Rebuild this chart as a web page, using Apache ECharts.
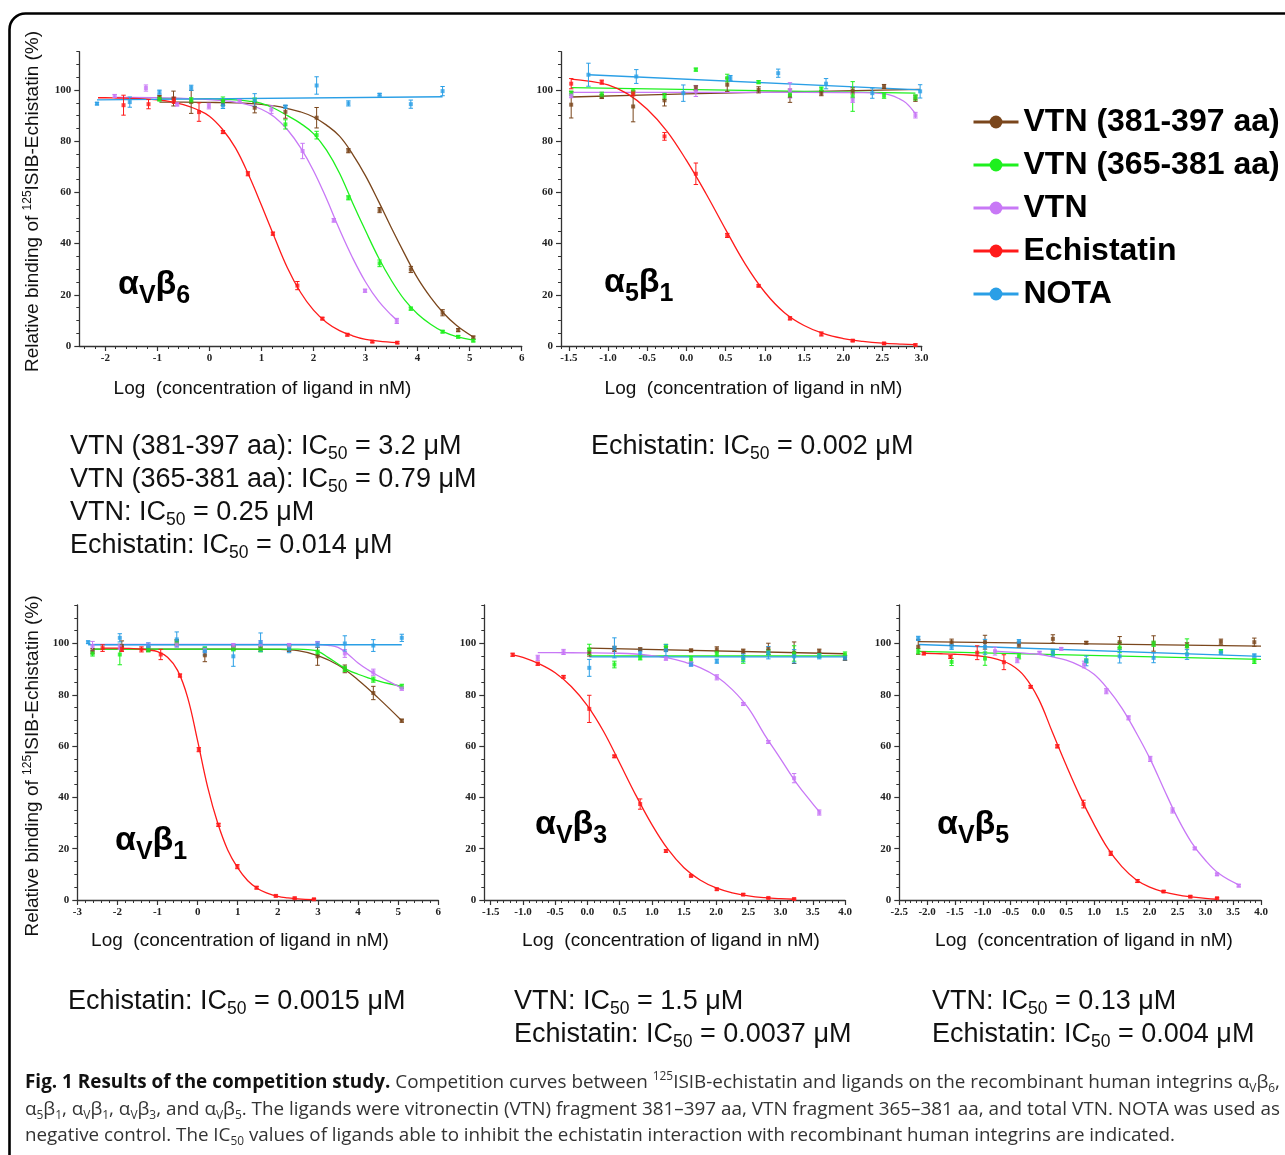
<!DOCTYPE html>
<html><head><meta charset="utf-8">
<script src="https://cdn.jsdelivr.net/npm/echarts@6/dist/echarts.min.js"></script>
<style>html,body{margin:0;padding:0;background:#fff}#c{width:1285px;height:1155px}</style>
</head><body><div id="c"></div>
<script>
// ---------------- DATA ----------------
// point arrays: [log concentration, relative binding %, error]
// fit arrays: [log concentration, fitted %]

// Panel αVβ6
const b6_v381_pts = [[-0.96,97.0,0.9],[-0.69,96.7,2.9],[-0.35,95.4,4.5],[0.26,94.9,1.0],[0.87,93.1,2.0],[1.46,91.5,2.5],[2.06,89.2,4.0],[2.67,76.3,0.8],[3.27,53.1,1.0],[3.87,29.9,1.2],[4.48,13.0,1.2],[4.78,6.2,0.6],[5.07,3.3,0.6]];
const b6_v381_fit = [[-0.96,95.3],[-0.5,95.3],[0,95.2],[0.25,95.1],[0.5,95.0],[0.75,94.8],[1.0,94.4],[1.25,93.8],[1.5,92.8],[1.75,91.5],[2.0,89.5],[2.25,86.3],[2.5,82],[2.75,75],[3.0,66.5],[3.25,56.5],[3.5,46],[3.75,36],[4.0,26.5],[4.25,19],[4.5,12.8],[4.75,8],[5.07,3.5]];
const b6_v365_pts = [[-0.96,96.5,0.8],[-0.35,96.0,1.0],[0.26,95.7,1.6],[0.87,96.1,0.8],[1.46,86.6,1.8],[2.06,82.4,1.5],[2.67,57.9,0.8],[3.27,32.3,1.3],[3.87,14.6,0.6],[4.48,5.6,0.5],[4.78,3.6,0.5],[5.07,2.1,0.5]];
const b6_v365_fit = [[-0.96,96.8],[-0.5,96.7],[0,96.6],[0.25,96.4],[0.5,96.2],[0.75,95.7],[1.0,94.8],[1.25,92.8],[1.5,90],[1.75,87],[2.0,83],[2.25,76.5],[2.5,67.5],[2.75,56],[3.0,45],[3.25,34.5],[3.5,25.5],[3.75,18],[4.0,12.5],[4.25,8.5],[4.5,5.5],[4.75,3.7],[5.07,2.3]];
const b6_vtn_pts = [[-1.82,97.7,0.6],[-1.22,100.8,1.2],[-0.62,94.4,0.6],[-0.01,93.75,1.1],[0.58,95.8,0.5],[1.19,92.4,1.5],[1.79,76.2,3.0],[2.39,49.1,0.7],[2.99,21.6,0.6],[3.6,9.8,1.0]];
const b6_vtn_fit = [[-1.82,97.1],[-1.5,97.1],[-1.0,97.0],[-0.5,96.8],[0,96.3],[0.25,95.9],[0.5,95.3],[0.75,94.2],[1.0,92.5],[1.25,89.5],[1.5,84.5],[1.75,77.5],[2.0,68.5],[2.25,57.5],[2.5,45.5],[2.75,34.5],[3.0,25],[3.25,17.5],[3.5,12],[3.6,10.2]];
const b6_ech_pts = [[-1.65,94.1,3.9],[-1.17,94.5,1.8],[-0.68,96.0,1.2],[-0.2,91.4,3.6],[0.26,83.6,0.6],[0.74,67.3,0.8],[1.22,43.9,0.6],[1.69,23.6,1.6],[2.17,10.7,0.5],[2.65,4.4,0.5],[3.13,1.7,0.4],[3.61,1.3,0.4]];
const b6_ech_fit = [[-2.14,97.0],[-2.0,97.0],[-1.75,96.9],[-1.5,96.8],[-1.25,96.6],[-1.0,96.2],[-0.75,95.5],[-0.5,94.3],[-0.25,92.5],[0,89.8],[0.25,84.7],[0.5,77.4],[0.75,67],[1.0,55],[1.25,42.5],[1.5,30.5],[1.75,21],[2.0,14],[2.25,9.2],[2.5,6.0],[2.75,4.0],[3.0,2.6],[3.25,1.9],[3.61,1.3]];
const b6_nota_pts = [[-2.16,94.7,0.5],[-1.53,95.3,2.0],[-0.96,99.2,0.8],[-0.35,100.9,1.0],[0.26,94.0,1.2],[0.87,96.1,2.5],[1.46,93.5,0.6],[2.06,101.8,3.4],[2.67,94.8,1.0],[3.27,98.2,0.5],[3.87,94.5,1.6],[4.48,99.6,1.8]];
const b6_nota_fit = [[-2.16,96.2],[4.48,97.4]];

// Panel α5β1
const a5b1_v381_pts = [[-1.47,94.3,5.2],[-1.08,97.5,0.8],[-0.68,93.6,6.0],[-0.28,96.0,2.2],[0.12,100.8,1.0],[0.52,102.1,2.6],[0.92,100.1,1.2],[1.32,97.8,2.6],[1.72,98.8,1.0],[2.12,99.7,1.2],[2.52,101.4,0.8],[2.92,96.8,1.2]];
const a5b1_v381_fit = [[-1.47,97.3],[0,98.5],[1.5,99.4],[2.98,100.3]];
const a5b1_v365_pts = [[-1.47,98.8,0.8],[-1.08,98.2,1.0],[-0.68,99.6,1.0],[-0.28,97.5,1.2],[0.12,108,0.6],[0.52,104.7,1.5],[0.92,103.1,0.6],[1.32,98.2,1.0],[1.72,100.4,0.8],[2.12,97.5,5.8],[2.52,97.8,1.0],[2.92,97.1,1.0]];
const a5b1_v365_fit = [[-1.47,101],[2.92,98.8]];
const a5b1_vtn_pts = [[-1.47,97.8,0.8],[0.12,99.5,2.0],[1.32,99.9,3.0],[2.12,96.2,1.0],[2.92,90.2,1.1]];
const a5b1_vtn_fit = [[-1.47,99.1],[0,99.1],[1.0,99.1],[2.0,99.05],[2.25,99.0],[2.5,98.6],[2.6,98.0],[2.7,96.8],[2.8,95],[2.92,90.8]];
const a5b1_ech_pts = [[-1.47,102.5,2.0],[-1.08,103.1,0.8],[-0.68,98.7,1.0],[-0.28,81.9,1.5],[0.12,67.3,4.2],[0.52,43.2,0.8],[0.92,23.5,0.4],[1.32,10.8,0.6],[1.72,4.7,0.8],[2.12,2.1,0.4],[2.52,1.0,0.4],[2.92,0.4,0.4]];
const a5b1_ech_fit = [[-1.47,104.3],[-1.25,103.5],[-1.0,102],[-0.75,98.5],[-0.5,92.5],[-0.25,84],[0,72.5],[0.25,59.5],[0.5,45.5],[0.75,32],[1.0,21],[1.25,13],[1.5,8],[1.75,4.8],[2.0,2.9],[2.25,1.8],[2.5,1.1],[2.75,0.7],[2.92,0.5]];
const a5b1_nota_pts = [[-1.25,106,4.5],[-0.64,105.3,2.7],[-0.04,98.8,3.2],[0.56,104.7,1.0],[1.17,106.6,1.6],[1.78,102.5,2.0],[2.37,98.8,2.0],[2.98,99.5,2.6]];
const a5b1_nota_fit = [[-1.25,106],[2.98,100.1]];

// Panel αVβ1
const b1_v381_pts = [[-2.62,97.0,1.0],[-1.89,99.0,2.0],[-1.23,97.9,1.0],[-0.52,100.5,1.0],[0.18,95.4,2.5],[0.89,98.3,0.8],[1.57,97.9,1.0],[2.28,97.9,1.0],[2.99,95.0,3.5],[3.67,90.1,1.5],[4.38,80.7,2.6],[5.09,69.9,0.6]];
const b1_v381_fit = [[-2.62,97.8],[-1.5,97.8],[0,97.8],[1.0,97.8],[2.0,97.7],[2.5,97.2],[3.0,95.3],[3.5,91.6],[4.0,85.8],[4.5,78.8],[5.09,69.9]];
const b1_v365_pts = [[-2.62,96.1,1.0],[-1.94,95.7,4.0],[-1.23,97.7,1.0],[-0.52,100.3,1.0],[0.18,97.7,1.0],[0.89,97.9,0.8],[1.57,97.7,1.0],[2.28,98.3,0.8],[2.99,96.6,0.8],[3.67,90.1,1.0],[4.38,85.9,1.0],[5.09,83.3,0.8]];
const b1_v365_fit = [[-2.62,97.8],[0,97.8],[2.5,97.8],[2.75,97.6],[3.0,96.9],[3.25,94.6],[3.5,92],[3.75,89.6],[4.0,88],[4.25,86.6],[4.5,85.4],[4.75,84.4],[5.09,83.3]];
const b1_vtn_pts = [[-2.62,99.0,1.8],[-1.94,98.7,1.0],[-1.23,99.2,1.0],[-0.52,99.6,1.0],[0.18,97.4,1.0],[0.89,99.2,0.8],[1.57,99.9,1.2],[2.28,99.0,1.0],[2.99,100.0,0.8],[3.67,96.1,1.5],[4.38,88.8,1.2],[5.09,82.4,0.6]];
const b1_vtn_fit = [[-2.62,99.6],[0,99.6],[3.0,99.6],[3.25,99.3],[3.5,98.5],[3.75,95.8],[4.0,92.4],[4.25,89.7],[4.5,87.4],[4.75,85.3],[5.09,82.6]];
const b1_ech_pts = [[-2.37,98.2,1.3],[-1.89,97.9,1.0],[-1.4,97.7,1.0],[-0.92,95.7,2.0],[-0.44,87.5,0.6],[0.03,58.6,0.8],[0.52,29.3,0.6],[0.99,13.0,0.8],[1.47,4.8,0.5],[1.95,1.6,0.4],[2.42,0.7,0.4],[2.9,0.3,0.3]];
const b1_ech_fit = [[-2.37,98.2],[-2.0,98.2],[-1.75,98.1],[-1.5,97.9],[-1.25,97.5],[-1.0,96.8],[-0.75,94.6],[-0.5,89.5],[-0.25,79],[0,62],[0.25,44],[0.5,30],[0.75,19.5],[1.0,12.5],[1.25,7.5],[1.5,4.4],[1.75,2.6],[2.0,1.4],[2.25,0.8],[2.5,0.4],[2.9,0.1]];
const b1_nota_pts = [[-2.73,100.5,0.5],[-1.94,102.2,1.6],[-1.23,99.0,1.2],[-0.52,101.6,2.9],[0.18,97.0,1.5],[0.89,95.0,3.9],[1.57,100.5,3.6],[2.28,97.9,1.5],[2.99,99.6,1.0],[3.67,100.0,3.0],[4.38,99.2,2.3],[5.09,102.2,1.4]];
const b1_nota_fit = [[-2.73,99.5],[5.09,99.5]];

// Panel αVβ3
const b3_v381_pts = [[0.03,96.6,1.5],[0.42,97.9,1.0],[0.82,97.7,0.6],[1.22,97.9,1.0],[1.61,97.3,0.5],[2.01,97.7,1.0],[2.42,97.0,0.8],[2.81,97.9,2.2],[3.21,96.4,4.2],[3.6,97.0,0.8],[4.0,94.4,1.0]];
const b3_v381_fit = [[0.03,98.2],[4.0,96.0]];
const b3_v365_pts = [[0.03,97.7,2.0],[0.42,91.8,1.3],[0.82,94.4,0.8],[1.22,98.7,1.0],[1.61,93.8,1.2],[2.01,96.1,1.0],[2.42,93.8,1.5],[2.81,96.6,1.0],[3.21,96.1,3.0],[3.6,95.3,0.8],[4.0,95.7,1.0]];
const b3_v365_fit = [[0.03,95.2],[4.0,95.2]];
const b3_vtn_pts = [[-0.77,94.4,1.0],[-0.37,96.7,1.0],[1.22,94.1,0.6],[1.61,92.1,0.8],[2.01,86.8,1.0],[2.42,76.4,0.6],[2.81,61.6,0.6],[3.21,47.5,1.8],[3.6,34.1,1.0]];
const b3_vtn_fit = [[-0.77,96.4],[-0.5,96.4],[0,96.35],[0.5,96.2],[0.75,95.9],[1.0,95.3],[1.25,94.4],[1.5,92.8],[1.75,90.6],[2.0,87.2],[2.25,82],[2.5,74.8],[2.75,64.5],[3.0,55],[3.25,45.5],[3.5,37.5],[3.6,34.5]];
const b3_ech_pts = [[-1.16,95.6,0.6],[-0.77,92.1,0.6],[-0.37,87.0,0.5],[0.03,74.5,5.3],[0.42,56.0,0.5],[0.82,37.4,2.0],[1.22,19.1,0.5],[1.61,9.4,0.4],[2.01,4.2,0.4],[2.42,2.1,0.4],[2.81,0.8,0.3],[3.21,0.4,0.3]];
const b3_ech_fit = [[-1.16,95.6],[-1.0,94.6],[-0.75,92.1],[-0.5,88.6],[-0.25,83.2],[0,75.8],[0.25,65.8],[0.5,53.5],[0.75,41],[1.0,29.5],[1.25,19.8],[1.5,12.6],[1.75,7.8],[2.0,4.7],[2.25,2.8],[2.5,1.6],[2.75,0.9],[3.0,0.5],[3.21,0.3]];
const b3_nota_pts = [[0.03,90.5,3.3],[0.42,98.3,3.9],[0.82,96.4,1.5],[1.22,97.4,2.2],[1.61,91.8,0.6],[2.01,93.1,0.8],[2.42,94.4,1.5],[2.81,96.4,2.4],[3.21,95.0,2.6],[3.6,95.0,1.0],[4.0,94.4,0.8]];
const b3_nota_fit = [[0.03,94.8],[4.0,94.8]];

// Panel αVβ5
const b5_v381_pts = [[-2.16,98.7,2.9],[-1.56,100.5,1.2],[-0.96,100.5,2.7],[-0.35,99.6,1.0],[0.26,101.8,1.6],[0.86,100.3,0.5],[1.46,100.5,2.2],[2.07,100.0,3.0],[2.67,99.3,1.0],[3.28,100.7,1.0],[3.88,100.5,1.6]];
const b5_v381_fit = [[-2.16,100.7],[4.0,99.0]];
const b5_v365_pts = [[-2.16,97.0,1.0],[-1.56,92.8,1.4],[-0.96,94.1,2.6],[-0.35,95.0,1.0],[0.26,96.4,1.0],[0.86,93.2,0.8],[1.46,98.4,2.0],[2.07,99.9,1.0],[2.67,99.0,2.8],[3.28,97.0,0.6],[3.88,93.2,1.0]];
const b5_v365_fit = [[-2.16,96.9],[4.0,93.8]];
const b5_vtn_pts = [[-0.78,97.0,1.5],[-0.38,93.5,1.0],[0.02,96.4,0.5],[0.41,97.9,0.5],[0.82,91.8,1.3],[1.22,81.4,1.0],[1.62,71.0,0.8],[2.01,55.0,1.0],[2.41,34.9,1.0],[2.81,20.1,0.5],[3.21,10.0,0.5],[3.6,5.6,0.5]];
const b5_vtn_fit = [[-0.78,97.0],[-0.5,96.6],[-0.25,96.2],[0,95.8],[0.25,94.8],[0.5,93.5],[0.75,91.3],[1.0,88],[1.25,82.2],[1.5,74.8],[1.75,65.5],[2.0,55.3],[2.25,43.5],[2.5,32],[2.75,22.5],[3.0,15.5],[3.25,10.2],[3.6,5.9]];
const b5_ech_pts = [[-2.06,96.1,0.5],[-1.58,94.7,0.5],[-1.1,96.4,2.7],[-0.62,92.7,2.9],[-0.14,83.1,0.5],[0.34,59.9,0.6],[0.81,37.4,1.5],[1.3,18.2,0.8],[1.78,7.4,0.6],[2.25,3.3,0.4],[2.73,1.3,0.4],[3.21,0.7,0.3]];
const b5_ech_fit = [[-2.06,96.2],[-1.75,96.0],[-1.5,95.8],[-1.25,95.5],[-1.0,95],[-0.75,93.9],[-0.5,91.8],[-0.25,87.2],[0,78.5],[0.25,65.5],[0.5,52.5],[0.75,40.3],[1.0,29.5],[1.25,20],[1.5,13],[1.75,8],[2.0,5],[2.25,3.2],[2.5,2],[2.75,1.2],[3.0,0.6],[3.21,0.3]];
const b5_nota_pts = [[-2.16,102.0,0.8],[-1.56,98.7,1.0],[-0.96,98.7,2.9],[-0.35,100.7,0.8],[0.26,96.4,1.3],[0.86,93.2,1.9],[1.46,95.0,2.6],[2.07,94.4,1.9],[2.67,95.7,1.9],[3.28,96.4,0.6],[3.88,95.3,0.6]];
const b5_nota_fit = [[-2.16,99.6],[4.0,95.0]];

// Tick labels
const b6_xTicks = [-2,-1,0,1,2,3,4,5,6];
const a5b1_xTicks = [-1.5,-1.0,-0.5,0,0.5,1.0,1.5,2.0,2.5,3.0];
const b1_xTicks = [-3,-2,-1,0,1,2,3,4,5,6];
const b3_xTicks = [-1.5,-1.0,-0.5,0,0.5,1.0,1.5,2.0,2.5,3.0,3.5,4.0];
const b5_xTicks = [-2.5,-2.0,-1.5,-1.0,-0.5,0,0.5,1.0,1.5,2.0,2.5,3.0,3.5,4.0];
const yTicks = [0,20,40,60,80,100];

const seriesNames = ['VTN (381-397 aa)','VTN (365-381 aa)','VTN','Echistatin','NOTA'];
const seriesKeys = ['v381','v365','vtn','ech','nota'];

// ---------------- STYLE / LAYOUT ----------------
const COLORS = {v381:'#7a461c', v365:'#1ef01e', vtn:'#c878f6', ech:'#ff1a1a', nota:'#2a9fe6'};
const SANS = 'Liberation Sans, Arial, sans-serif';
const SERIF = 'Liberation Serif, Times New Roman, serif';

function steps(a, b, s){ const o=[]; const n=Math.round((b-a)/s); for(let i=0;i<=n;i++) o.push(+(a+i*s).toFixed(4)); return o; }

const panels = [
  {grid:{left:79.3, top:51.7, width:442.4, height:294.3}, xMin:-2.5, xMax:6, ticks:b6_xTicks, minor:steps(-2.4,6,0.2), dec:0,
   d:{v381:[b6_v381_pts,b6_v381_fit], v365:[b6_v365_pts,b6_v365_fit], vtn:[b6_vtn_pts,b6_vtn_fit], ech:[b6_ech_pts,b6_ech_fit], nota:[b6_nota_pts,b6_nota_fit]}},
  {grid:{left:561, top:51.7, width:360.7, height:294.3}, xMin:-1.6, xMax:3.0, ticks:a5b1_xTicks, minor:steps(-1.6,3.0,0.1), dec:1,
   d:{v381:[a5b1_v381_pts,a5b1_v381_fit], v365:[a5b1_v365_pts,a5b1_v365_fit], vtn:[a5b1_vtn_pts,a5b1_vtn_fit], ech:[a5b1_ech_pts,a5b1_ech_fit], nota:[a5b1_nota_pts,a5b1_nota_fit]}},
  {grid:{left:77.3, top:605, width:361, height:295}, xMin:-3, xMax:6, ticks:b1_xTicks, minor:steps(-3,6,0.2), dec:0,
   d:{v381:[b1_v381_pts,b1_v381_fit], v365:[b1_v365_pts,b1_v365_fit], vtn:[b1_vtn_pts,b1_vtn_fit], ech:[b1_ech_pts,b1_ech_fit], nota:[b1_nota_pts,b1_nota_fit]}},
  {grid:{left:484.3, top:605, width:360.7, height:295}, xMin:-1.6, xMax:4.0, ticks:b3_xTicks, minor:steps(-1.6,4.0,0.1), dec:1,
   d:{v381:[b3_v381_pts,b3_v381_fit], v365:[b3_v365_pts,b3_v365_fit], vtn:[b3_vtn_pts,b3_vtn_fit], ech:[b3_ech_pts,b3_ech_fit], nota:[b3_nota_pts,b3_nota_fit]}},
  {grid:{left:899.3, top:605, width:361.7, height:295}, xMin:-2.5, xMax:4.0, ticks:b5_xTicks, minor:steps(-2.5,4.0,0.1), dec:1,
   d:{v381:[b5_v381_pts,b5_v381_fit], v365:[b5_v365_pts,b5_v365_fit], vtn:[b5_vtn_pts,b5_vtn_fit], ech:[b5_ech_pts,b5_ech_fit], nota:[b5_nota_pts,b5_nota_fit]}}
];
const yMinor = steps(0,115,5);

function errRender(params, api){
  const x = api.value(0), y = api.value(1), e = api.value(2);
  const t = api.coord([x, y+e]), b = api.coord([x, y-e]);
  const c = api.visual('color'); const w = 2.2;
  const st = {stroke:c, lineWidth:1};
  return {type:'group', children:[
    {type:'line', shape:{x1:t[0],y1:t[1],x2:b[0],y2:b[1]}, style:st},
    {type:'line', shape:{x1:t[0]-w,y1:t[1],x2:t[0]+w,y2:t[1]}, style:st},
    {type:'line', shape:{x1:b[0]-w,y1:b[1],x2:b[0]+w,y2:b[1]}, style:st}
  ]};
}

const grids=[], xAxes=[], yAxes=[], series=[];
const AX = '#333';
panels.forEach((p,i)=>{
  grids.push(Object.assign({containLabel:false}, p.grid));
  xAxes.push({gridIndex:i, type:'value', min:p.xMin, max:p.xMax, position:'bottom',
    axisLine:{show:true, onZero:false, lineStyle:{color:AX, width:1.3}},
    axisTick:{show:true, inside:false, length:5, customValues:p.ticks, lineStyle:{color:AX, width:1.2}},
    axisLabel:{show:true, customValues:p.ticks, formatter:(v)=>Number(v).toFixed(p.dec), margin:7,
      fontFamily:SERIF, fontWeight:'bold', fontSize:11, color:'#222'},
    splitLine:{show:false}});
  xAxes.push({gridIndex:i, type:'value', min:p.xMin, max:p.xMax, position:'bottom',
    axisLine:{show:false, onZero:false}, axisTick:{show:true, inside:false, length:3, customValues:p.minor, lineStyle:{color:AX, width:1}},
    axisLabel:{show:false}, splitLine:{show:false}});
  yAxes.push({gridIndex:i, type:'value', min:0, max:115, position:'left',
    axisLine:{show:true, onZero:false, lineStyle:{color:AX, width:1.3}},
    axisTick:{show:true, inside:false, length:5, customValues:yTicks, lineStyle:{color:AX, width:1.2}},
    axisLabel:{show:true, customValues:yTicks, margin:8, fontFamily:SERIF, fontWeight:'bold', fontSize:11, color:'#222'},
    splitLine:{show:false}});
  yAxes.push({gridIndex:i, type:'value', min:0, max:115, position:'left',
    axisLine:{show:false, onZero:false}, axisTick:{show:true, inside:false, length:3, customValues:yMinor, lineStyle:{color:AX, width:1}},
    axisLabel:{show:false}, splitLine:{show:false}});
  const xi = 2*i, yi = 2*i;
  seriesKeys.forEach((k, j)=>{
    const [pts, fit] = p.d[k];
    const col = COLORS[k];
    series.push({type:'line', name:seriesNames[j], xAxisIndex:xi, yAxisIndex:yi, data:fit,
      smooth:0.4, symbol:'circle', symbolSize:8, showSymbol:false,
      lineStyle:{width:1.3, color:col}, itemStyle:{color:col}, z:2, silent:true});
    series.push({type:'custom', name:'err_'+k, xAxisIndex:xi, yAxisIndex:yi, data:pts,
      dimensions:['x','y','err'], encode:{x:0, y:1}, renderItem:errRender,
      itemStyle:{color:col}, z:3, silent:true});
    series.push({type:'scatter', name:'pt_'+k, xAxisIndex:xi, yAxisIndex:yi, data:pts.map(q=>[q[0],q[1]]),
      symbol:'rect', symbolSize:4, itemStyle:{color:col}, z:4, silent:true});
  });
});

// ---------------- TEXT ----------------
const icRich = {s:{fontSize:17.5, lineHeight:20, verticalAlign:'bottom', fontFamily:SANS, fill:'#111'}};
function icText(x, top, lines){
  return {type:'text', x:x, y:top, z:10, silent:true,
    style:{text:lines.join('\n'), fontSize:27, lineHeight:33, fontFamily:SANS, fill:'#111', align:'left', verticalAlign:'top', rich:icRich}};
}
const plRich = {s:{fontSize:25, fontWeight:'bold', lineHeight:25, verticalAlign:'bottom', fontFamily:SANS, fill:'#000'}};
function plText(x, yMid, txt){
  return {type:'text', x:x, y:yMid, z:10, silent:true,
    style:{text:txt, fontSize:34, fontWeight:'bold', lineHeight:48, fontFamily:SANS, fill:'#000', align:'left', verticalAlign:'middle', rich:plRich}};
}
const yTitleRich = {sup:{fontSize:12, lineHeight:12, verticalAlign:'top', fontFamily:SANS, fill:'#111'}};
function yTitle(x, y){
  return {type:'text', x:x, y:y, rotation:Math.PI/2, z:10, silent:true,
    style:{text:'Relative binding of {sup|125}ISIB-Echistatin (%)', fontSize:19, lineHeight:22, fontFamily:SANS, fill:'#111', align:'center', verticalAlign:'middle', rich:yTitleRich}};
}
function xTitle(x, y){
  return {type:'text', x:x, y:y, z:10, silent:true,
    style:{text:'Log  (concentration of ligand in nM)', fontSize:19, fontFamily:SANS, fill:'#111', align:'center', verticalAlign:'middle'}};
}

// caption (lines as segments: [text, kind])
const capLines = [
  [['Fig. 1 Results of the competition study.','b'],[' Competition curves between ','n'],['125','sup'],['ISIB-echistatin and ligands on the recombinant human integrins α','n'],['V','sub'],['β','n'],['6','sub'],[',','n']],
  [['α','n'],['5','sub'],['β','n'],['1','sub'],[', α','n'],['V','sub'],['β','n'],['1','sub'],[', α','n'],['V','sub'],['β','n'],['3','sub'],[', and α','n'],['V','sub'],['β','n'],['5','sub'],['. The ligands were vitronectin (VTN) fragment 381–397 aa, VTN fragment 365–381 aa, and total VTN. NOTA was used as','n']],
  [['negative control. The IC','n'],['50','sub'],[' values of ligands able to inhibit the echistatin interaction with recombinant human integrins are indicated.','n']]
];
const CAPF = 'Open Sans, Liberation Sans, sans-serif';
const capFonts = {n:'400 19px '+CAPF, b:'700 19px '+CAPF, sup:'400 12px '+CAPF, sub:'400 12px '+CAPF};
const capRich = {
  b:{fontSize:19, fontWeight:'bold', fontFamily:CAPF, fill:'#111', lineHeight:24},
  n:{fontSize:19, fontFamily:CAPF, fill:'#333', lineHeight:24},
  sup:{fontSize:12, fontFamily:CAPF, fill:'#333', lineHeight:14, verticalAlign:'top'},
  sub:{fontSize:12, fontFamily:CAPF, fill:'#333', lineHeight:14, verticalAlign:'bottom'}
};
const mctx = document.createElement('canvas').getContext('2d');
function segWidth(line){ let w=0; line.forEach(([t,k])=>{ mctx.font=capFonts[k]; w+=mctx.measureText(t).width; }); return w; }
const capTargets = [1255, 1255, 1150];
const capY = [1083, 1110, 1136];
const capEls = capLines.map((line, i)=>{
  const txt = line.map(([t,k])=>'{'+k+'|'+t+'}').join('');
  const sx = capTargets[i] / segWidth(line);
  return {type:'text', x:25, y:capY[i], scaleX:sx, scaleY:1, z:10, silent:true,
    style:{text:txt, fontSize:19, lineHeight:24, fontFamily:CAPF, fill:'#333', align:'left', verticalAlign:'middle', rich:capRich}};
});

const graphics = [
  {type:'rect', shape:{x:9.5, y:13.5, width:1330, height:1250, r:16}, style:{fill:'none', stroke:'#000', lineWidth:2.6}, z:-1, silent:true},
  yTitle(33, 201.5), yTitle(33, 766),
  xTitle(262.5, 389), xTitle(753.5, 389), xTitle(240, 941), xTitle(671, 941), xTitle(1084, 941),
  plText(118, 285, 'α{s|V}β{s|6}'), plText(604, 283, 'α{s|5}β{s|1}'), plText(115, 841, 'α{s|V}β{s|1}'),
  plText(535, 825, 'α{s|V}β{s|3}'), plText(937, 825, 'α{s|V}β{s|5}'),
  icText(70, 430, ['VTN (381-397 aa): IC{s|50} = 3.2 μM','VTN (365-381 aa): IC{s|50} = 0.79 μM','VTN: IC{s|50} = 0.25 μM','Echistatin: IC{s|50} = 0.014 μM']),
  icText(591, 430, ['Echistatin: IC{s|50} = 0.002 μM']),
  icText(68, 985, ['Echistatin: IC{s|50} = 0.0015 μM']),
  icText(514, 985, ['VTN: IC{s|50} = 1.5 μM','Echistatin: IC{s|50} = 0.0037 μM']),
  icText(932, 985, ['VTN: IC{s|50} = 0.13 μM','Echistatin: IC{s|50} = 0.004 μM'])
].concat(capEls);

const chart = echarts.init(document.getElementById('c'), null, {renderer:'canvas', width:1285, height:1155});
chart.setOption({
  animation:false,
  backgroundColor:'#fff',
  textStyle:{fontFamily:SANS},
  grid:grids, xAxis:xAxes, yAxis:yAxes, series:series,
  legend:{orient:'vertical', left:972, top:106, padding:0, itemWidth:45, itemHeight:16, itemGap:11,
    data:seriesNames, selectedMode:false,
    textStyle:{fontSize:32, fontWeight:'bold', fontFamily:SANS, color:'#000', lineHeight:32},
    lineStyle:{width:3}},
  graphic:graphics
});
</script></body></html>
